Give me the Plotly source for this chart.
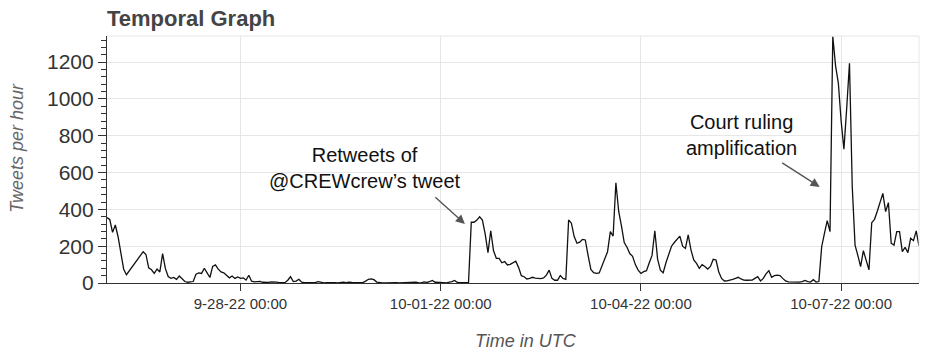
import plotly.graph_objects as go
import pandas as pd

# ---- data ----
start_time = "2022-09-26 00:00"
hours = [
    0, 1, 2, 3, 4, 5, 6, 7,
    13, 14, 15, 16, 17, 18, 19, 20, 21, 22, 23, 24, 25, 26, 27, 28, 29, 30, 31, 32, 33, 34, 35, 36, 37, 38, 39,
    40, 41, 42, 43, 44, 45, 46, 47, 48, 49, 50, 51, 52, 53, 54, 55, 56, 57,
    58, 59, 60, 61, 62, 63, 64, 65, 66, 67, 68, 69, 70, 71, 72, 73, 74, 75, 76, 77, 78, 79,
    80, 81, 82, 83, 84, 85, 86, 87, 88, 89, 90, 91, 92, 93, 94, 95, 96, 97, 98, 99,
    100, 101, 102, 103, 104, 105, 106, 107, 108, 109, 110, 111, 112, 113, 114, 115, 116, 117, 118, 119,
    120, 121, 122, 123, 124, 125, 126, 127, 128, 129, 130,
    131, 132, 133, 134, 135, 136, 137, 138, 139, 140, 141, 142, 143, 144, 145, 146, 147, 148, 149,
    150, 151, 152, 153, 154, 155, 156, 157, 158, 159, 160, 161, 162, 163, 164, 165, 166, 167, 168, 169,
    170, 171, 172, 173, 174, 175, 176, 177, 178, 179, 180, 181, 182, 183, 184, 185, 186, 187, 188, 189,
    190, 191, 192, 193, 194, 195, 196, 197, 198, 199, 200, 201, 202, 203, 204, 205, 206, 207, 208, 209,
    210, 211, 212, 213, 214, 215, 216, 217, 218, 219, 220, 221, 222,
    223, 224, 225, 226, 227, 228, 229, 230, 231, 232, 233, 234, 235, 236, 237, 238, 239,
    240, 241, 242, 243, 244, 245, 246, 247, 248, 249, 250, 251, 252, 253, 254, 255, 256,
    257, 258, 259, 260, 261, 262, 263, 264, 265, 266, 267, 268, 269,
    270, 271, 272, 273, 274, 275, 276, 277, 278, 279, 280, 281, 282, 283, 284, 285, 286, 287, 288, 289,
    290, 291, 292,
]
tweets_per_hour = [
    355, 345, 275, 315, 250, 150, 75, 45,
    170, 155, 82, 72, 52, 76, 60, 160, 78, 35, 25, 30, 20, 38, 20, 8, 4, 4, 8, 48, 55, 52, 80, 55, 30, 90, 98,
    75, 60, 55, 43, 28, 38, 25, 33, 25, 28, 16, 42, 10, 6, 7, 9, 4, 2,
    3, 6, 7, 5, 2, 3, 2, 15, 34, 8, 10, 20, 4, 2, 2, 1, 2, 3, 7, 2, 1, 2,
    3, 5, 2, 1, 3, 4, 2, 5, 3, 2, 5, 3, 2, 10, 20, 22, 18, 5, 2, 1,
    1, 2, 1, 1, 2, 1, 2, 1, 1, 2, 3, 5, 2, 1, 6, 3, 8, 14, 4, 2,
    3, 2, 1, 3, 8, 14, 3, 2, 1, 2, 2,
    330, 330, 342, 360, 342, 265, 165, 284, 175, 134, 134, 110, 116, 98, 101, 108, 118, 85, 40,
    34, 22, 25, 31, 26, 25, 24, 28, 43, 70, 25, 15, 15, 40, 25, 20, 342, 325, 252, 216,
    222, 237, 234, 150, 74, 56, 52, 55, 95, 140, 170, 279, 255, 545, 390, 310, 220, 194, 160, 145,
    100, 70, 52, 62, 67, 110, 150, 284, 130, 70, 56, 110, 160, 200, 220, 240, 255, 200, 188, 261,
    180, 125, 107, 80, 100, 90, 76, 90, 129, 125, 60, 25, 11,
    12, 18, 20, 25, 31, 22, 16, 15, 16, 16, 25, 34, 11, 25, 50, 67, 31,
    40, 43, 40, 25, 11, 6, 5, 5, 4, 5, 8, 14, 8, 5, 18, 5, 8,
    197, 270, 339, 279, 1339, 1180, 1085, 880, 727, 950, 1194, 523, 206,
    150, 89, 176, 125, 71, 328, 346, 390, 440, 487, 388, 437, 216, 206, 279, 279, 170, 194, 165, 243,
    230, 283, 200,
]
tick_dates = ["2022-09-28", "2022-10-01", "2022-10-04", "2022-10-07"]
tick_labels = ["9-28-22 00:00", "10-01-22 00:00", "10-04-22 00:00", "10-07-22 00:00"]
y_ticks = [0, 200, 400, 600, 800, 1000, 1200]

times = pd.Timestamp(start_time) + pd.to_timedelta(hours, unit="h")

FONT = "Liberation Sans, Arial, Helvetica, sans-serif"

fig = go.Figure()
fig.add_trace(go.Scatter(
    x=times, y=tweets_per_hour, mode="lines",
    line=dict(color="#111111", width=1.3),
    showlegend=False, hoverinfo="x+y",
))

fig.update_layout(
    width=936, height=353,
    margin=dict(l=107, r=17, t=36, b=70),
    paper_bgcolor="white", plot_bgcolor="white",
    font=dict(family=FONT, color="#333333"),
    title=dict(text="<b>Temporal Graph</b>", x=107 / 936, xanchor="left",
               y=0.948, yanchor="middle",
               font=dict(family=FONT, size=22, color="#444444")),
)

fig.update_xaxes(
    range=[times[0], times[-1]],
    tickvals=pd.to_datetime(tick_dates), ticktext=tick_labels,
    showgrid=True, gridcolor="#e6e6e6", gridwidth=1,
    showline=True, linecolor="#333333", linewidth=1.2,
    ticks="outside", ticklen=7, tickcolor="#333333",
    tickfont=dict(size=15, color="#333333"),
    zeroline=False,
)
fig.update_yaxes(
    range=[0, 1342],
    tickvals=y_ticks,
    showgrid=True, gridcolor="#e6e6e6", gridwidth=1,
    showline=True, linecolor="#333333", linewidth=1.2,
    ticks="outside", ticklen=8, tickcolor="#333333",
    minor=dict(dtick=40, tick0=0, ticks="outside", ticklen=5, tickcolor="#333333", showgrid=False),
    tickfont=dict(size=21, color="#333333"),
    zeroline=False,
)

# light frame on top / right
fig.add_shape(type="line", xref="paper", yref="paper", x0=0, x1=1, y0=1, y1=1,
              line=dict(color="#e6e6e6", width=1))
fig.add_shape(type="line", xref="paper", yref="paper", x0=1, x1=1, y0=0, y1=1,
              line=dict(color="#e6e6e6", width=1))

# axis titles
fig.add_annotation(text="<i>Time in UTC</i>", xref="paper", yref="paper",
                   x=0.516, y=-0.185, xanchor="center", yanchor="top", showarrow=False,
                   font=dict(size=18, color="#555555", family=FONT))
fig.add_annotation(text="<i>Tweets per hour</i>", xref="paper", yref="paper",
                   x=-0.111, y=0.547, xanchor="center", yanchor="middle", textangle=-90,
                   showarrow=False, font=dict(size=18, color="#666666", family=FONT))

# callouts
t0 = pd.Timestamp(start_time)
fig.add_annotation(text="Retweets of<br>@CREWcrew’s tweet",
                   x=t0 + pd.Timedelta(hours=92.8), y=625, xanchor="center", yanchor="middle",
                   showarrow=False, font=dict(size=20, color="#111111", family=FONT))
fig.add_annotation(text="", x=t0 + pd.Timedelta(hours=128.7), y=321,
                   ax=-31, ay=-28, showarrow=True, arrowhead=2, arrowsize=1.3,
                   arrowwidth=1.4, arrowcolor="#555555")
fig.add_annotation(text="Court ruling<br>amplification",
                   x=t0 + pd.Timedelta(hours=228.2), y=802, xanchor="center", yanchor="middle",
                   showarrow=False, font=dict(size=20, color="#111111", family=FONT))
fig.add_annotation(text="", x=t0 + pd.Timedelta(hours=256.3), y=522,
                   ax=-39, ay=-25, showarrow=True, arrowhead=2, arrowsize=1.3,
                   arrowwidth=1.4, arrowcolor="#555555")

fig.write_html("out.html")
